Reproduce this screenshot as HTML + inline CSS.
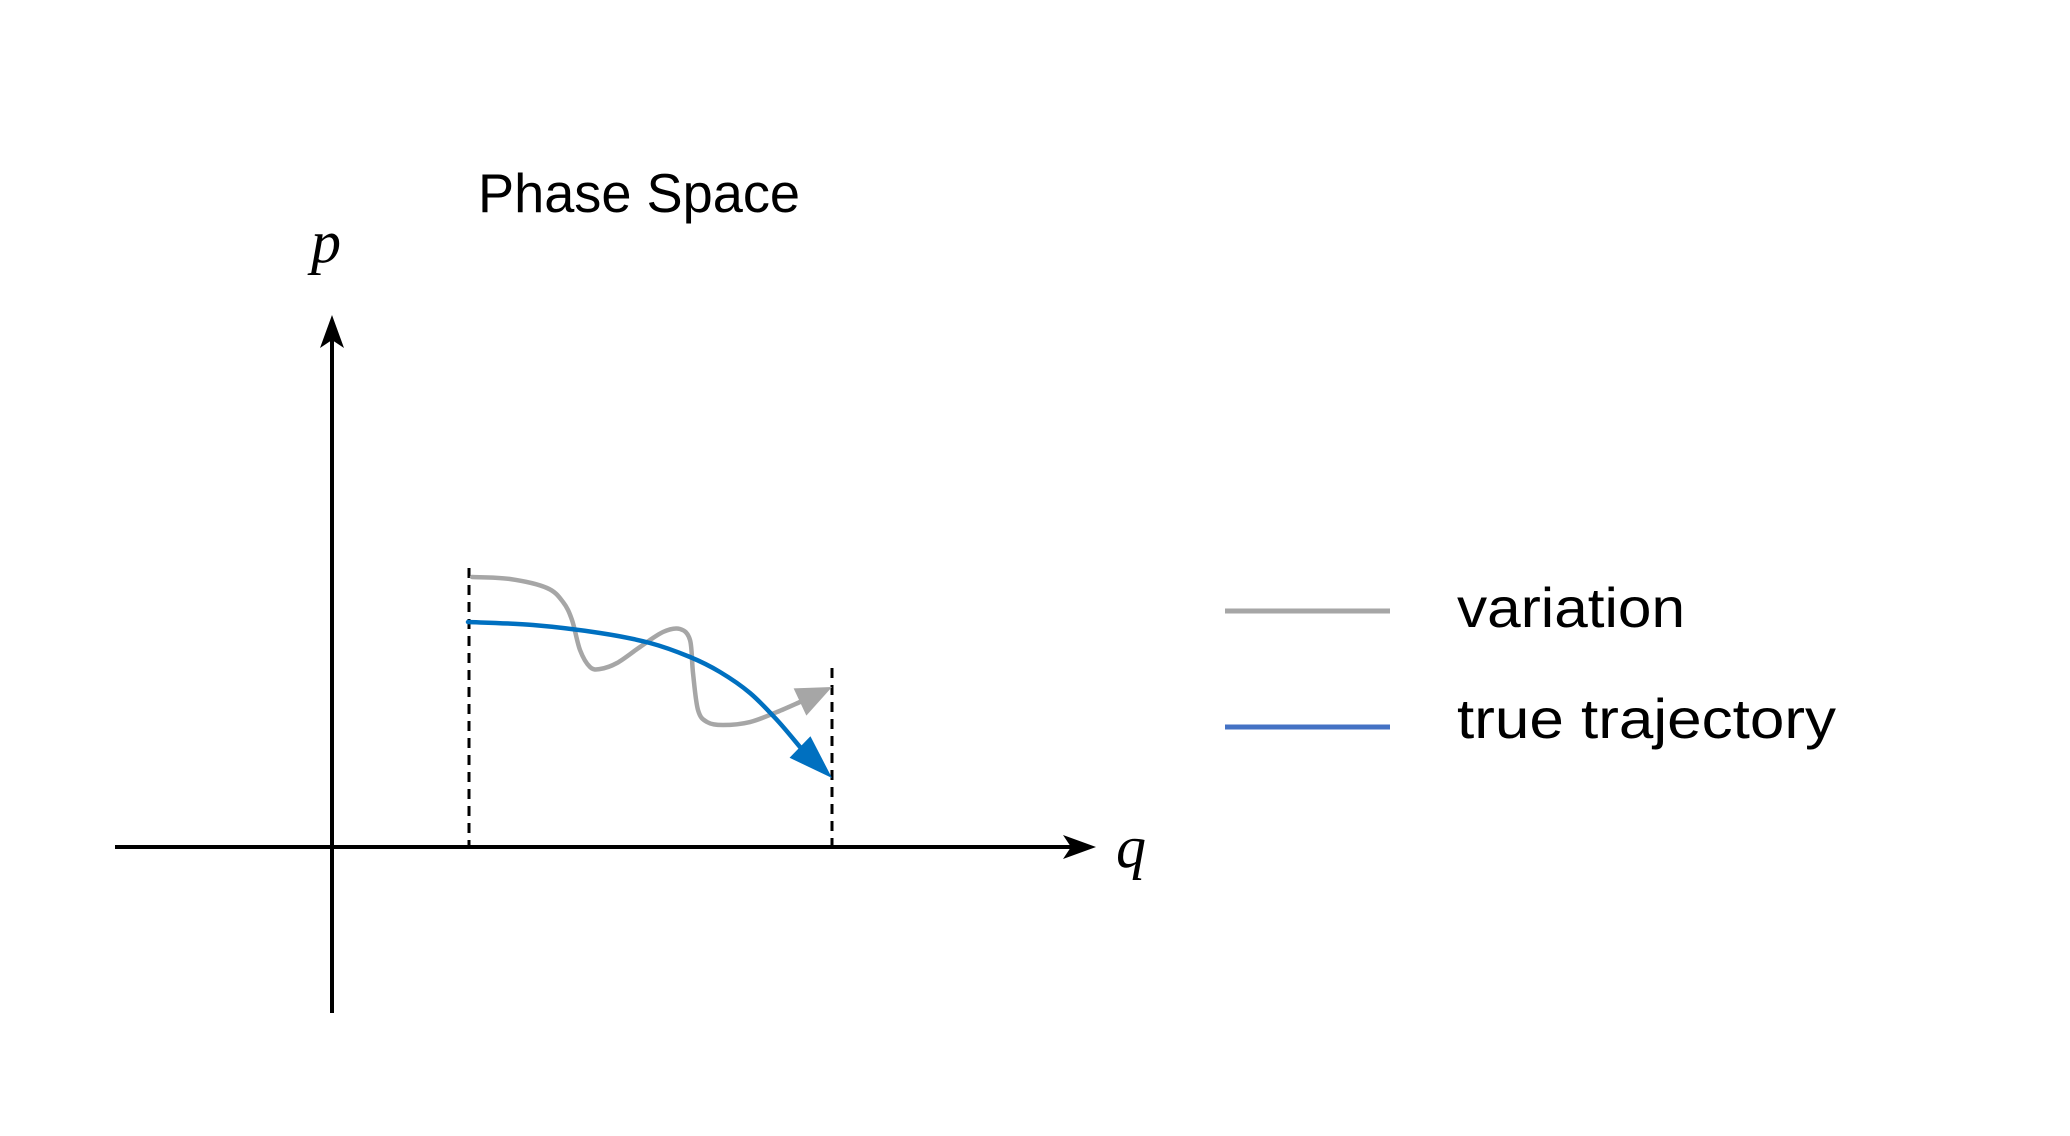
<!DOCTYPE html>
<html><head><meta charset="utf-8"><style>
html,body{margin:0;padding:0;background:#fff;}
svg{display:block;}
</style></head><body>
<svg id="chart" width="2070" height="1136" viewBox="0 0 2070 1136" xmlns="http://www.w3.org/2000/svg">
<text x="478" y="212" font-family="Liberation Sans, sans-serif" font-size="55" textLength="322" lengthAdjust="spacingAndGlyphs" fill="#000">Phase Space</text>
<text x="311" y="262" font-family="Liberation Serif, serif" font-style="italic" font-size="60" fill="#000">p</text>
<text x="1116" y="867" font-family="Liberation Serif, serif" font-style="italic" font-size="60" fill="#000">q</text>
<line x1="332" y1="1013" x2="332" y2="330" stroke="#000" stroke-width="4"/>
<polygon points="332,315 320,348 332,340 344,348" fill="#000"/>
<line x1="115" y1="847" x2="1080" y2="847" stroke="#000" stroke-width="4"/>
<polygon points="1096,847 1063,835 1071,847 1063,859" fill="#000"/>
<g id="marks"></g>
<line x1="1225" y1="611" x2="1390" y2="611" stroke="#a6a6a6" stroke-width="5"/>
<text x="1457" y="627" font-family="Liberation Sans, sans-serif" font-size="56" textLength="228" lengthAdjust="spacingAndGlyphs" fill="#000">variation</text>
<line x1="1225" y1="727" x2="1390" y2="727" stroke="#4472c4" stroke-width="5"/>
<text x="1457" y="738" font-family="Liberation Sans, sans-serif" font-size="56" textLength="379" lengthAdjust="spacingAndGlyphs" fill="#000">true trajectory</text>
</svg>
<script>
const variationQ = [1.40,1.78,2.15,2.31,2.40,2.48,2.58,2.68,2.85,3.08,3.31,3.48,3.58,3.61,3.66,3.75,3.91,4.18,4.45,4.68,5.00];
const variationP = [2.70,2.68,2.59,2.45,2.27,1.97,1.80,1.78,1.84,2.00,2.15,2.18,2.07,1.74,1.37,1.25,1.22,1.25,1.35,1.45,1.60];
const trueQ = [1.36,2.01,2.68,3.18,3.58,3.88,4.18,4.45,4.68,5.00];
const trueP = [2.25,2.22,2.14,2.04,1.90,1.75,1.54,1.27,1.00,0.69];
const boundaryQ = [1.37,5.00];
const boundaryTopP = [2.79,1.79];

const X0 = 332, Y0 = 847, UNIT = 100;
function xScale(q){ return X0 + q*UNIT; }
function yScale(p){ return Y0 - p*UNIT; }
const NS = 'http://www.w3.org/2000/svg';
const g = document.getElementById('marks');

boundaryQ.forEach(function(q,i){
  const l = document.createElementNS(NS,'line');
  
  
  l.setAttribute('x1', xScale(q)); l.setAttribute('x2', xScale(q));
  l.setAttribute('y1', yScale(boundaryTopP[i])); l.setAttribute('y2', yScale(0));
  l.setAttribute('stroke','#000'); l.setAttribute('stroke-width','3');
  l.setAttribute('stroke-dasharray','10 7');
  g.appendChild(l);
});

function smoothPath(pts){
  let d = 'M'+pts[0][0]+','+pts[0][1];
  for(let i=0;i<pts.length-1;i++){
    const p0 = pts[i-1]||pts[i], p1 = pts[i], p2 = pts[i+1], p3 = pts[i+2]||p2;
    const c1x = p1[0]+(p2[0]-p0[0])/6, c1y = p1[1]+(p2[1]-p0[1])/6;
    const c2x = p2[0]-(p3[0]-p1[0])/6, c2y = p2[1]-(p3[1]-p1[1])/6;
    d += ' C'+c1x+','+c1y+' '+c2x+','+c2y+' '+p2[0]+','+p2[1];
  }
  return d;
}

function drawSeries(qs, ps, color, width, name){
  const pts = qs.map(function(q,i){ return [xScale(q), yScale(ps[i])]; });
  const tip = pts[pts.length-1];
  const body = pts.slice(0, pts.length-1);
  const path = document.createElementNS(NS,'path');
  
  
  path.setAttribute('d', smoothPath(body));
  path.setAttribute('fill','none');
  path.setAttribute('stroke', color);
  path.setAttribute('stroke-width', width);
  path.setAttribute('stroke-linecap','round');
  g.appendChild(path);
  const b = body[body.length-1];
  const dx = tip[0]-b[0], dy = tip[1]-b[1], len = Math.hypot(dx,dy);
  const ux = dx/len, uy = dy/len, hw = 15;
  const hl = Math.max(len, 34);
  const bx = tip[0]-ux*hl, by = tip[1]-uy*hl;
  const head = document.createElementNS(NS,'polygon');
  
  
  head.setAttribute('points', tip[0]+','+tip[1]+' '+(bx-uy*hw)+','+(by+ux*hw)+' '+(bx+uy*hw)+','+(by-ux*hw));
  head.setAttribute('fill', color);
  g.appendChild(head);
}
drawSeries(variationQ, variationP, '#a6a6a6', 4.5, 'variation');
drawSeries(trueQ, trueP, '#0070c0', 4.5, 'true-trajectory');
</script>
</body></html>
